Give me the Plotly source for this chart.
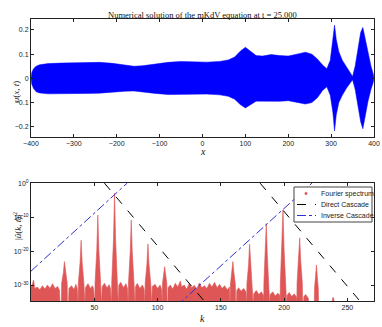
import plotly.graph_objects as go

# ---- top panel: envelope of u(x, t) at t = 25 ----
env_x = [-400, -398, -394, -388, -380, -360, -330, -300, -270, -240, -210, -180, -160, -140,
         -110, -80, -50, -20, 10, 40, 60, 75, 88, 100, 112, 125, 140, 160, 180, 200, 220,
         240, 255, 268, 280, 290, 298, 304, 308, 312, 318, 326, 336, 345, 350, 356, 363,
         369, 374, 379, 386, 393, 398, 400]
env_upper = [0, 0.025, 0.04, 0.05, 0.056, 0.061, 0.063, 0.064, 0.066, 0.066, 0.062, 0.054,
             0.05, 0.052, 0.06, 0.066, 0.07, 0.068, 0.067, 0.07, 0.076, 0.088, 0.112, 0.128,
             0.112, 0.094, 0.092, 0.098, 0.094, 0.092, 0.1, 0.108, 0.1, 0.08, 0.055, 0.04,
             0.075, 0.15, 0.22, 0.16, 0.11, 0.075, 0.045, 0.02, 0.008, 0.05, 0.13, 0.19,
             0.21, 0.17, 0.1, 0.05, 0.02, 0]
env_lower = [0, -0.025, -0.042, -0.055, -0.06, -0.064, -0.065, -0.063, -0.062, -0.061,
             -0.058, -0.053, -0.052, -0.055, -0.062, -0.067, -0.068, -0.066, -0.065, -0.068,
             -0.074, -0.086, -0.108, -0.122, -0.108, -0.094, -0.094, -0.096, -0.095, -0.092,
             -0.098, -0.106, -0.1, -0.08, -0.05, -0.035, -0.07, -0.14, -0.217, -0.15, -0.1,
             -0.07, -0.04, -0.018, -0.006, -0.045, -0.12, -0.18, -0.208, -0.16, -0.095,
             -0.045, -0.018, 0]

# ---- bottom panel: outline of the spectrum band (k, log10 |u_hat|^2) ----
spec_k = [0, 0.5, 2, 3, 5, 7, 9, 11, 13, 15, 17, 19, 21, 22.5, 23, 24, 24.2, 25.6, 26.4,
          27.2, 28.6, 28.8, 29.6, 30, 32, 34, 35.5, 36.5, 36.8, 37.2, 37.4, 38.8, 39.6, 40.4,
          41.8, 42, 42.6, 43, 45, 47, 48.5, 49.5, 50, 50.4, 50.6, 52, 52.8, 53.6, 55,
          55.2, 55.8, 56.2, 58, 60, 61.8, 62.8, 63.2, 63.6, 63.8, 65.2, 66, 66.8, 68.2, 68.4,
          69, 69.4, 71, 73, 75, 76.2, 76.6, 76.8, 77, 78.4, 79.2, 80, 81.4, 81.6, 82.2,
          82.6, 84, 86, 88, 89.4, 89.8, 90, 90.2, 91.6, 92.4, 93.2, 94.6, 94.8, 95.4, 95.8,
          98, 100, 102, 103.2, 103.5, 103.7, 103.9, 104.8, 105.6, 106.4, 107.3, 107.5, 108,
          108.3, 110, 112, 114, 116, 118, 119, 121, 123, 125, 127, 129, 131, 133, 135, 137,
          139, 141, 143, 145, 147, 149, 151, 153, 155, 156.8, 157.1, 157.3, 157.5, 158.7,
          159.5, 160.3, 161.5, 161.7, 162.3, 162.6, 164, 166, 168, 169.8, 170.2, 170.4,
          170.6, 171.9, 172.7, 173.5, 174.8, 175, 175.6, 176, 178, 180, 182, 183.6, 183.8,
          183.9, 184, 185.1, 185.9, 186.7, 187.8, 188, 188.6, 189, 191, 193, 195, 196.6,
          196.8, 197, 198.3, 199.1, 199.9, 201.2, 201.4, 202, 202.4, 204, 206, 208, 209.8,
          210, 210.2, 211.5, 212.3, 213.1, 214.4, 214.6, 215.2, 215.6, 217, 219, 220, 223.8,
          224, 224.8, 225.5, 226.2, 227, 227.2, 237.8, 238.1, 238.7, 239.3, 239.6]
spec_exp = [-30.5, -30.5, -28.5, -31, -30.6, -31.4, -30.2, -31.2, -30, -31, -29.6, -31, -30.4,
            -31.5, -36, -36, -29.5, -26.3, -23.1, -26.3, -29.5, -36, -36, -31, -30.2, -31.3,
            -29.8, -31, -36, -36, -29.5, -23.2, -16.8, -23.2, -29.5, -36, -36, -30.8, -29.6,
            -31, -30.2, -31.2, -36, -36, -29.5, -19.5, -9.4, -19.5, -29.5, -36, -36, -30.5,
            -29.5, -30.8, -29.9, -31, -36, -36, -29, -16.3, -3, -16.3, -29, -36, -36, -30,
            -29.2, -30.8, -29.6, -31, -36, -36, -29.5, -20.2, -10.9, -20.2, -29.5, -36, -36,
            -30.5, -29.5, -31, -30, -31.2, -36, -36, -29.5, -23.7, -17.9, -23.7, -29.5, -36,
            -36, -30.4, -29.8, -31, -30, -31.3, -36, -36, -29.5, -27, -24.6, -27, -29.5, -36,
            -36, -30.8, -30, -31.2, -29.5, -30.6, -28.8, -30.5, -30, -31.2, -29.6, -30.8,
            -30.1, -31.2, -29.4, -30.8, -30.2, -31, -29.5, -30.6, -29.2, -30.8, -29.8, -31,
            -30.2, -31.4, -30.6, -36, -36, -30, -26.3, -23.1, -26.3, -30, -36, -36, -31.6,
            -30.8, -31.8, -31, -32, -36, -36, -29.5, -24, -18, -24, -29.5, -36, -36, -32.6,
            -31.6, -32.8, -32, -33, -36, -36, -29.5, -21, -11.9, -21, -29.5, -36, -36, -32.8,
            -32, -33.2, -32.4, -33, -36, -29.5, -19, -7.9, -19, -29.5, -36, -36, -33, -32.2,
            -33.4, -32.6, -33.6, -36, -29.5, -23, -16.1, -23, -29.5, -36, -36, -33.4, -32.8,
            -33.8, -36, -36, -31, -27.5, -24.1, -27.5, -31, -36, -36, -34.2, -33.6, -34.2,
            -36]

# cascade lines, end points (k, log10)
direct_a_k, direct_a_exp = [58, 140], [0, -36.1]
direct_b_k, direct_b_exp = [181, 263], [0, -36.1]
inverse_a_k, inverse_a_exp = [0, 76], [-25.9, 0]
inverse_b_k, inverse_b_exp = [115, 222], [-36.2, 0]

y_tick_exp = [-30, -20, -10, 0]
legend_labels = ["Fourier spectrum", "Direct Cascade", "Inverse Cascade"]

SERIF = "Liberation Serif, DejaVu Serif, serif"
SANS = "Liberation Sans, Arial, sans-serif"
RED = "rgb(223,86,86)"
BLUE_LINE = "#3030d0"
INK = "#222222"

fig = go.Figure()

# top panel
fig.add_trace(go.Scatter(
    x=env_x + env_x[::-1],
    y=env_upper + env_lower[::-1],
    fill="toself", fillcolor="#0000ff", mode="lines",
    line=dict(color="#0000ff", width=0.5),
    showlegend=False, hoverinfo="skip",
    xaxis="x", yaxis="y"))

# bottom panel: spectrum drawn as a band down to below the axis floor
floor = -36
fig.add_trace(go.Scatter(
    x=spec_k + [spec_k[-1], spec_k[0]],
    y=[10 ** e for e in spec_exp] + [10 ** floor, 10 ** floor],
    fill="toself", fillcolor=RED, mode="lines",
    line=dict(color=RED, width=0.6),
    showlegend=False, hoverinfo="skip",
    xaxis="x2", yaxis="y2"))

for kk, ee in [(direct_a_k, direct_a_exp), (direct_b_k, direct_b_exp)]:
    fig.add_trace(go.Scatter(
        x=kk, y=[10 ** e for e in ee], mode="lines",
        line=dict(color="black", width=1, dash="dash"),
        showlegend=False, xaxis="x2", yaxis="y2"))
for kk, ee in [(inverse_a_k, inverse_a_exp), (inverse_b_k, inverse_b_exp)]:
    fig.add_trace(go.Scatter(
        x=kk, y=[10 ** e for e in ee], mode="lines",
        line=dict(color=BLUE_LINE, width=1, dash="dashdot"),
        showlegend=False, xaxis="x2", yaxis="y2"))

axis_style = dict(showline=True, linecolor=INK, linewidth=1, mirror="ticks",
                  ticks="inside", ticklen=3, tickcolor=INK, showgrid=False,
                  zeroline=False, tickfont=dict(family=SANS, size=7, color=INK))

# hand-made compact legend (matlab style), positions in paper units
def px_x(p):
    return (p - 31) / 343.0

def px_y(p):
    return (301 - p) / 282.0

shapes = [dict(type="rect", xref="paper", yref="paper",
               x0=px_x(294), x1=px_x(372), y0=px_y(222), y1=px_y(187),
               line=dict(color="#444", width=1), fillcolor="white", layer="above")]
rows = [193.5, 204.5, 215.5]
shapes.append(dict(type="circle", xref="paper", yref="paper",
                   x0=px_x(304.8), x1=px_x(307.2), y0=px_y(rows[0] + 1.2),
                   y1=px_y(rows[0] - 1.2), line=dict(color=RED, width=0.5),
                   fillcolor=RED, layer="above"))
shapes.append(dict(type="line", xref="paper", yref="paper",
                   x0=px_x(297), x1=px_x(316), y0=px_y(rows[1]), y1=px_y(rows[1]),
                   line=dict(color="black", width=1, dash="dash"), layer="above"))
shapes.append(dict(type="line", xref="paper", yref="paper",
                   x0=px_x(297), x1=px_x(316), y0=px_y(rows[2]), y1=px_y(rows[2]),
                   line=dict(color=BLUE_LINE, width=1, dash="dashdot"), layer="above"))

annotations = [
    dict(text="Numerical solution of the mKdV equation at t = 25.000",
         xref="paper", yref="paper", x=0.5, y=1, yshift=11, showarrow=False,
         font=dict(family=SERIF, size=8.5, color="#111")),
    dict(text="<i>x</i>", xref="paper", yref="paper", x=0.5, y=0.5816, yshift=-15,
         yanchor="middle", showarrow=False, font=dict(family=SERIF, size=10, color="#111")),
    dict(text="<i>u</i>(<i>x</i>, <i>t</i>)", xref="paper", yref="paper",
         x=0, xshift=-22, y=0.79, textangle=-90, showarrow=False,
         font=dict(family=SERIF, size=9, color="#111")),
    dict(text="<i>k</i>", xref="paper", yref="paper", x=0.5, y=0, yshift=-17,
         yanchor="middle", showarrow=False, font=dict(family=SERIF, size=10, color="#111")),
    dict(text="|<i>û</i>(<i>k</i>, <i>t</i>)|<sup>2</sup>", xref="paper", yref="paper",
         x=0, xshift=-22, y=0.209, textangle=-90, showarrow=False,
         font=dict(family=SERIF, size=9, color="#111")),
]
for r, lab in zip(rows, legend_labels):
    annotations.append(dict(text=lab, xref="paper", yref="paper", x=px_x(319), y=px_y(r),
                            xanchor="left", yanchor="middle", showarrow=False,
                            font=dict(family=SANS, size=7, color=INK)))

fig.update_layout(
    width=382, height=327,
    margin=dict(l=31, r=8, t=19, b=26),
    template="none",
    font=dict(family=SANS, color=INK),
    paper_bgcolor="white", plot_bgcolor="white",
    showlegend=False,
    xaxis=dict(domain=[0, 1], range=[-400, 400], tickvals=list(range(-400, 401, 100)),
               anchor="y", **axis_style),
    yaxis=dict(domain=[0.5816, 1], range=[-0.242, 0.245],
               tickvals=[-0.2, -0.1, 0, 0.1, 0.2], anchor="x", **axis_style),
    xaxis2=dict(domain=[0, 1], range=[0, 271], tickvals=[50, 100, 150, 200, 250],
                anchor="y2", **axis_style),
    yaxis2=dict(domain=[0, 0.418], type="log", range=[-34.7, 0],
                tickvals=[10 ** e for e in y_tick_exp],
                ticktext=["10<sup>%d</sup>" % e for e in y_tick_exp],
                anchor="x2", **axis_style),
    shapes=shapes,
    annotations=annotations,
)

# page body has an 8px default margin; drop it so the figure fills the window
fig.write_html("out.html", config={"displayModeBar": False},
               post_script="document.body.style.margin = '0';")
